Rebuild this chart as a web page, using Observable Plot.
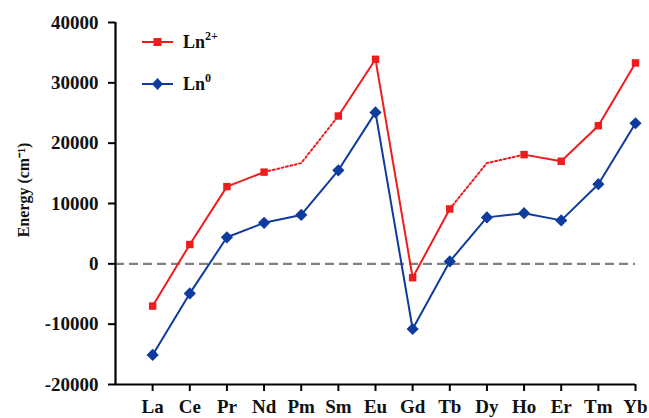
<!DOCTYPE html>
<html>
<head>
<meta charset="utf-8">
<script src="https://cdn.jsdelivr.net/npm/d3@7"></script>
<script src="https://cdn.jsdelivr.net/npm/@observablehq/plot@0.6"></script>
<style>
  body { margin: 0; background: #fff; }
  #wrap { position: relative; width: 649px; height: 418px; font-family: "Liberation Serif", "Times New Roman", serif; }
  .leg { position: absolute; left: 142px; font-weight: bold; font-size: 18px; color: #111; display: flex; align-items: center; }
  .leg svg { margin-right: 10px; }
  .leg sup { font-size: 12px; position: relative; top: -1px; }
</style>
</head>
<body>
<div id="wrap"></div>
<script>
const elements = ["La","Ce","Pr","Nd","Pm","Sm","Eu","Gd","Tb","Dy","Ho","Er","Tm","Yb"];
const ln2plus = [-7000, 3200, 12800, 15200, 16700, 24500, 33900, -2300, 9100, 16700, 18100, 17000, 22900, 33300];
const ln0 = [-15100, -4900, 4400, 6800, 8100, 15500, 25100, -10800, 400, 7700, 8400, 7200, 13200, 23300];
const estimated = ["Pm", "Dy"]; // Ln2+ points without markers, joined by dotted lines
const yTicks = [-20000, -10000, 0, 10000, 20000, 30000, 40000];

const red = "#ee1c1c";
const blue = "#0f3a9e";

const rows = elements.map((el, i) => ({el, i, ln2: ln2plus[i], ln0: ln0[i], est: estimated.includes(el)}));
const solid = rows.map(d => ({...d, ln2s: d.est ? NaN : d.ln2}));
const dotted = [];
rows.forEach((d, k) => {
  if (d.est) {
    [k - 1, k, k + 1].forEach(j => dotted.push({...rows[j], seg: d.el}));
  }
});

const font = "'Liberation Serif', 'Times New Roman', serif";

const chart = Plot.plot({
  width: 649,
  height: 418,
  marginLeft: 115,
  marginRight: 14,
  marginTop: 22,
  marginBottom: 34,
  style: {fontFamily: font, fontSize: "19px", fontWeight: "bold", color: "#111", background: "#fff", overflow: "visible"},
  x: {domain: [-1, 13], axis: null},
  y: {domain: [-20000, 40000], axis: null},
  marks: [
    Plot.ruleY([0], {stroke: "#808080", strokeWidth: 2.2, strokeDasharray: "9,5"}),
    Plot.line(solid, {x: "i", y: "ln2s", stroke: red, strokeWidth: 2}),
    Plot.line(dotted, {x: "i", y: "ln2", z: "seg", stroke: red, strokeWidth: 2, strokeDasharray: "2,2.5"}),
    Plot.line(rows, {x: "i", y: "ln0", stroke: blue, strokeWidth: 2}),
    Plot.dot(rows.filter(d => !d.est), {x: "i", y: "ln2", symbol: "square", r: 4.2, fill: red, stroke: red, strokeWidth: 0}),
    Plot.dot(rows, {x: "i", y: "ln0", symbol: "diamond2", r: 5.5, fill: blue, stroke: blue, strokeWidth: 0}),
    Plot.ruleX([-1], {stroke: "#000", strokeWidth: 2.2}),
    Plot.ruleY([-20000], {stroke: "#000", strokeWidth: 2.2}),
    Plot.axisY({ticks: yTicks, tickSize: 7, tickPadding: 10, tickFormat: d => String(d).replace("−", "-"), fontSize: 19, fontWeight: "bold", stroke: "#000", strokeWidth: 2, label: null}),
    Plot.axisX({ticks: d3.range(0, 14), tickSize: 7, tickPadding: 8, tickFormat: i => elements[i], fontSize: 19, fontWeight: "bold", stroke: "#000", strokeWidth: 2, label: null})
  ]
});

const wrap = document.getElementById("wrap");
wrap.appendChild(chart);

const svg = d3.select(chart);
svg.append("text")
  .attr("transform", "translate(29,190) rotate(-90)")
  .attr("text-anchor", "middle")
  .attr("font-size", 16)
  .attr("font-weight", "bold")
  .attr("fill", "#111")
  .attr("font-family", font)
  .text("Energy (cm\u207B\u00B9)");

function legendItem(top, color, symbol, html) {
  const div = document.createElement("div");
  div.className = "leg";
  div.style.top = (top - 11) + "px";
  const sym = symbol === "square"
    ? `<rect x="11.5" y="7" width="8" height="8" fill="${color}"/>`
    : `<path d="M15.5 5 L21 11 L15.5 17 L10 11 Z" fill="${color}"/>`;
  div.innerHTML = `<svg width="31" height="22"><line x1="0" x2="31" y1="11" y2="11" stroke="${color}" stroke-width="2"/>${sym}</svg><span>${html}</span>`;
  wrap.appendChild(div);
}
legendItem(41, red, "square", "Ln<sup>2+</sup>");
legendItem(83, blue, "diamond", "Ln<sup>0</sup>");
</script>
</body>
</html>
